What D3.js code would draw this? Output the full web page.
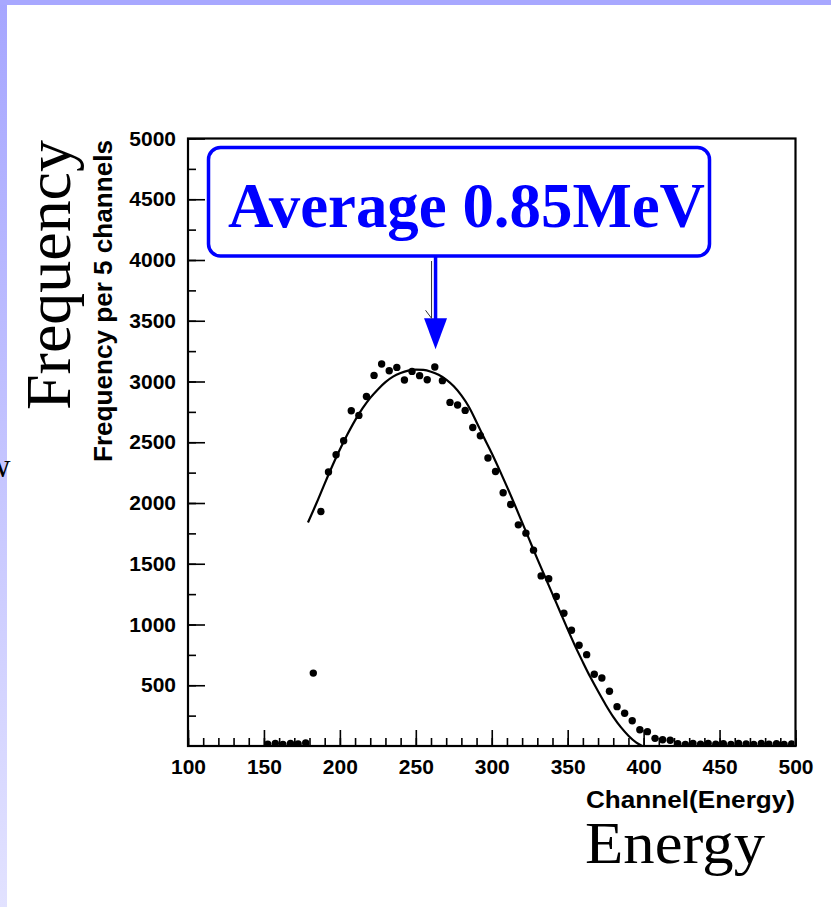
<!DOCTYPE html>
<html>
<head>
<meta charset="utf-8">
<script src="https://cdn.jsdelivr.net/npm/d3@7"></script>
<style>
  body { margin: 0; background: #fff; }
  svg { display: block; }
</style>
</head>
<body>
<svg width="831" height="907"></svg>
<script>
// measured spectrum, counts per 5-channel bin
const binCenters = [152.5, 157.5, 162.5, 167.5, 172.5, 177.5, 182.5, 187.5, 192.5, 197.5,
  202.5, 207.5, 212.5, 217.5, 222.5, 227.5, 232.5, 237.5, 242.5, 247.5,
  252.5, 257.5, 262.5, 267.5, 272.5, 277.5, 282.5, 287.5, 292.5, 297.5,
  302.5, 307.5, 312.5, 317.5, 322.5, 327.5, 332.5, 337.5, 342.5, 347.5,
  352.5, 357.5, 362.5, 367.5, 372.5, 377.5, 382.5, 387.5, 392.5, 397.5,
  402.5, 407.5, 412.5, 417.5, 422.5, 427.5, 432.5, 437.5, 442.5, 447.5,
  452.5, 457.5, 462.5, 467.5, 472.5, 477.5, 482.5, 487.5, 492.5, 497.5];
const counts = [14, 22, 12, 20, 16, 26, 600, 1930, 2255, 2397,
  2512, 2759, 2721, 2877, 3050, 3144, 3089, 3116, 3012, 3083,
  3048, 3015, 3119, 3007, 2828, 2806, 2762, 2622, 2554, 2370,
  2259, 2084, 1988, 1820, 1752, 1612, 1400, 1376, 1230, 1093,
  953, 829, 752, 591, 560, 451, 324, 269, 208, 134,
  118, 63, 52, 47, 18, 12, 20, 15, 22, 14,
  19, 12, 21, 16, 13, 20, 15, 18, 12, 17];

// fitted curve
const fitChannels = [179, 185, 190, 195, 200, 205, 210, 215, 220, 225, 230, 235, 240, 245, 250,
  255, 260, 265, 270, 275, 280, 285, 290, 295, 300, 305, 310, 315, 320, 325, 330,
  335, 340, 345, 350, 355, 360, 365, 370, 375, 380, 385, 390, 395, 399];
const fitValues = [1840, 2010, 2160, 2305, 2440, 2565, 2680, 2780, 2865, 2935, 2995, 3040, 3070, 3090, 3098,
  3095, 3080, 3055, 3015, 2960, 2885, 2790, 2665, 2535, 2410, 2275, 2135, 1990, 1840, 1690, 1540,
  1395, 1250, 1105, 960, 820, 690, 565, 450, 340, 240, 155, 85, 30, 0];

const xTickValues = [100, 150, 200, 250, 300, 350, 400, 450, 500];
const yTickValues = [500, 1000, 1500, 2000, 2500, 3000, 3500, 4000, 4500, 5000];

const arrowChannel = 263;
const arrowTipValue = 3265;

const svg = d3.select('svg');

const defs = svg.append('defs');
const grad = defs.append('linearGradient')
    .attr('id', 'strip')
    .attr('x1', 0).attr('y1', 0).attr('x2', 0).attr('y2', 1);
grad.append('stop').attr('offset', '0%').attr('stop-color', '#a6a6ff');
grad.append('stop').attr('offset', '100%').attr('stop-color', '#e2e2ff');

defs.append('clipPath').attr('id', 'plotclip')
  .append('rect').attr('x', 189).attr('y', 139.5).attr('width', 605.5).attr('height', 605.5);

svg.append('rect').attr('width', 831).attr('height', 907).attr('fill', '#fff');
svg.append('rect').attr('x', 0).attr('y', 0).attr('width', 7).attr('height', 907).attr('fill', 'url(#strip)');
svg.append('rect').attr('x', 0).attr('y', 0).attr('width', 831).attr('height', 5).attr('fill', '#a8a8ff');

// stray glyph cut off at the left edge
svg.append('text')
    .attr('x', -14).attr('y', 477)
    .attr('font-family', "'Liberation Serif', 'Times New Roman', serif")
    .attr('font-size', 34)
    .text('w');

let x = d3.scaleLinear().domain([100, 500]).range([188, 795.5]);
let y = d3.scaleLinear().domain([0, 5000]).range([746, 138.5]);

const tickFont = "'Liberation Sans', Arial, Helvetica, sans-serif";

// minor ticks
svg.append('g')
    .attr('transform', 'translate(0,746)')
    .call(d3.axisBottom(x).tickValues(d3.range(100, 501, 10)).tickSize(-8).tickFormat(''));
svg.append('g')
    .attr('transform', 'translate(188,0)')
    .call(d3.axisLeft(y).tickValues(d3.range(250, 5000, 250)).tickSize(-8).tickFormat(''));

// major ticks + labels
let xAxis = svg.append('g')
    .attr('transform', 'translate(0,746)')
    .call(d3.axisBottom(x).tickValues(xTickValues).tickSize(-16).tickPadding(13).tickFormat(d3.format('d')));
let yAxis = svg.append('g')
    .attr('transform', 'translate(188,0)')
    .call(d3.axisLeft(y).tickValues(yTickValues).tickSize(-17).tickPadding(12).tickFormat(d3.format('d')));

[xAxis, yAxis].forEach((g) => {
    g.selectAll('.domain').remove();
    g.selectAll('text')
        .attr('font-family', tickFont)
        .attr('font-weight', 'bold')
        .attr('font-size', 21)
        .attr('fill', '#000');
});
svg.selectAll('.tick line').attr('stroke', '#000').attr('stroke-width', 1.6);

// frame
svg.append('rect')
    .attr('x', 188).attr('y', 138.5)
    .attr('width', 607.5).attr('height', 607.5)
    .attr('fill', 'none')
    .attr('stroke', '#000')
    .attr('stroke-width', 2.2);

// fit
let fitLine = d3.line()
    .x((d) => x(d[0]))
    .y((d) => y(d[1]))
    .curve(d3.curveMonotoneX);
svg.append('path')
    .attr('d', fitLine(fitChannels.map((c, i) => [c, fitValues[i]])))
    .attr('fill', 'none')
    .attr('stroke', '#000')
    .attr('stroke-width', 2.2);

// data points
svg.append('g')
    .attr('clip-path', 'url(#plotclip)')
    .selectAll('circle')
    .data(binCenters)
    .join('circle')
    .attr('cx', (d) => x(d))
    .attr('cy', (d, i) => y(counts[i]))
    .attr('r', 3.7)
    .attr('fill', '#000');

// axis titles
svg.append('text')
    .attr('transform', 'translate(112,301) rotate(-90)')
    .attr('text-anchor', 'middle')
    .attr('font-family', tickFont)
    .attr('font-weight', 'bold')
    .attr('font-size', 25)
    .attr('textLength', 322)
    .attr('lengthAdjust', 'spacingAndGlyphs')
    .text('Frequency per 5 channels');

svg.append('text')
    .attr('x', 795).attr('y', 808)
    .attr('text-anchor', 'end')
    .attr('font-family', tickFont)
    .attr('font-weight', 'bold')
    .attr('font-size', 24)
    .attr('textLength', 209)
    .attr('lengthAdjust', 'spacingAndGlyphs')
    .text('Channel(Energy)');

const serif = "'Liberation Serif', 'Times New Roman', Times, serif";

svg.append('text')
    .attr('x', 585).attr('y', 863)
    .attr('font-family', serif)
    .attr('font-size', 60)
    .attr('textLength', 180)
    .attr('lengthAdjust', 'spacingAndGlyphs')
    .text('Energy');

svg.append('text')
    .attr('transform', 'translate(70,275) rotate(-90)')
    .attr('text-anchor', 'middle')
    .attr('font-family', serif)
    .attr('font-size', 63)
    .attr('textLength', 270)
    .attr('lengthAdjust', 'spacingAndGlyphs')
    .text('Frequency');

// annotation
svg.append('rect')
    .attr('x', 208.5).attr('y', 147.5)
    .attr('width', 501).attr('height', 108.5)
    .attr('rx', 12)
    .attr('fill', '#fff')
    .attr('stroke', '#0000ff')
    .attr('stroke-width', 3.5);

svg.append('text')
    .attr('x', 228).attr('y', 227)
    .attr('font-family', serif)
    .attr('font-weight', 'bold')
    .attr('font-size', 64)
    .attr('fill', '#0000ff')
    .attr('textLength', 477)
    .attr('lengthAdjust', 'spacingAndGlyphs')
    .text('Average 0.85MeV');

let ax = x(arrowChannel);
let tip = y(arrowTipValue);
svg.append('line')
    .attr('x1', ax).attr('x2', ax)
    .attr('y1', 256).attr('y2', tip - 28)
    .attr('stroke', '#0000ff')
    .attr('stroke-width', 3.5);
svg.append('path')
    .attr('d', `M${ax - 11.5},${tip - 31} L${ax + 11.5},${tip - 31} L${ax},${tip} Z`)
    .attr('fill', '#0000ff');

// thin black arrow behind the blue one
svg.append('path')
    .attr('d', `M${ax - 4},261 L${ax - 4},${tip - 31} M${ax - 10},${tip - 39} L${ax - 4},${tip - 31}`)
    .attr('fill', 'none')
    .attr('stroke', '#333')
    .attr('stroke-width', 1);
</script>
</body>
</html>
